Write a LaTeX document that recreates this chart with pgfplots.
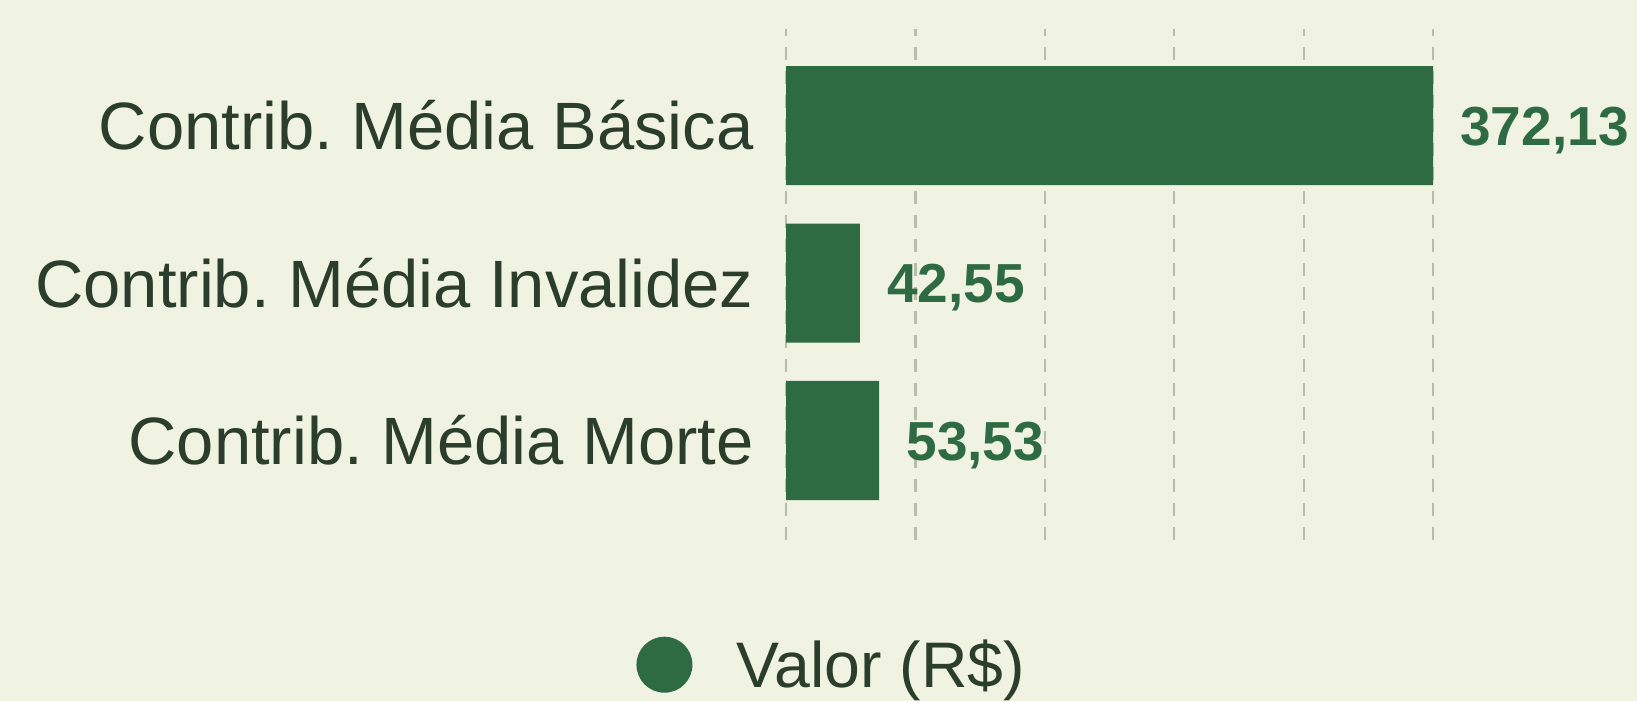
\documentclass[border=0pt]{standalone}
\usepackage{pgfplots}
\pgfplotsset{compat=1.18}
\usepackage{pgfplotstable}
\usepackage{fontspec}
\setmainfont{Liberation Sans}
\frenchspacing
\definecolor{bg}{HTML}{F0F3E1}
\definecolor{barc}{HTML}{2E6B43}
\definecolor{txt}{HTML}{2B3D2B}
\definecolor{gridc}{HTML}{BABDA8}

% y: category position (2 = top), val: contribution in R$
\pgfplotstableread{
y val
2 372.13
1 42.55
0 53.53
}\contrib

\begin{document}
\begin{tikzpicture}[x=1bp,y=1bp]
\fill[bg] (0,0) rectangle (818.5,-350.5);
\useasboundingbox (0,0) rectangle (818.5,-350.5);
\begin{axis}[
  at={(393bp,-270bp)}, anchor=south west,
  scale only axis, width=323.5bp, height=255.5bp,
  xbar, bar width=59.5bp,
  xmin=0, xmax=372.13, ymin=-0.632, ymax=2.613,
  axis line style={draw=none},
  major tick length=0pt,
  ytick={0,1,2},
  yticklabels={Contrib. Média Morte, Contrib. Média Invalidez, Contrib. Média Básica},
  xtick={0,74.426,148.852,223.278,297.704,372.13},
  xticklabels={},
  xmajorgrids,
  major grid style={gridc, line width=1.1bp, dash pattern=on 6.5bp off 5.5bp},
  yticklabel style={font=\fontsize{33.6}{36}\selectfont, text=txt, anchor=east,
    inner sep=0pt, text height=24bp, text depth=0pt, xshift=-16bp},
  point meta=x,
  nodes near coords={\pgfmathprintnumber[fixed,precision=2,fixed zerofill,use comma,assume math mode=true]{\pgfplotspointmeta}},
  nodes near coords style={font=\bfseries\fontsize{27.6}{30}\selectfont, text=barc,
    anchor=west, inner sep=0pt, text height=19.8bp, text depth=0pt, xshift=13.5bp},
  legend style={draw=none, fill=none, at={(axis description cs:-0.241,-0.244)}, anchor=west,
    font=\fontsize{32.3}{35}\selectfont, text=txt, nodes={inner sep=0pt},
    /tikz/every odd column/.append style={column sep=22bp}},
]
\addplot[fill=barc, draw=none,
  legend image code/.code={\fill[barc] (14bp,0) circle (14bp);}]
  table[x=val, y=y] {\contrib};
\addlegendentry{Valor (R\$)}
\end{axis}
\end{tikzpicture}
\end{document}
